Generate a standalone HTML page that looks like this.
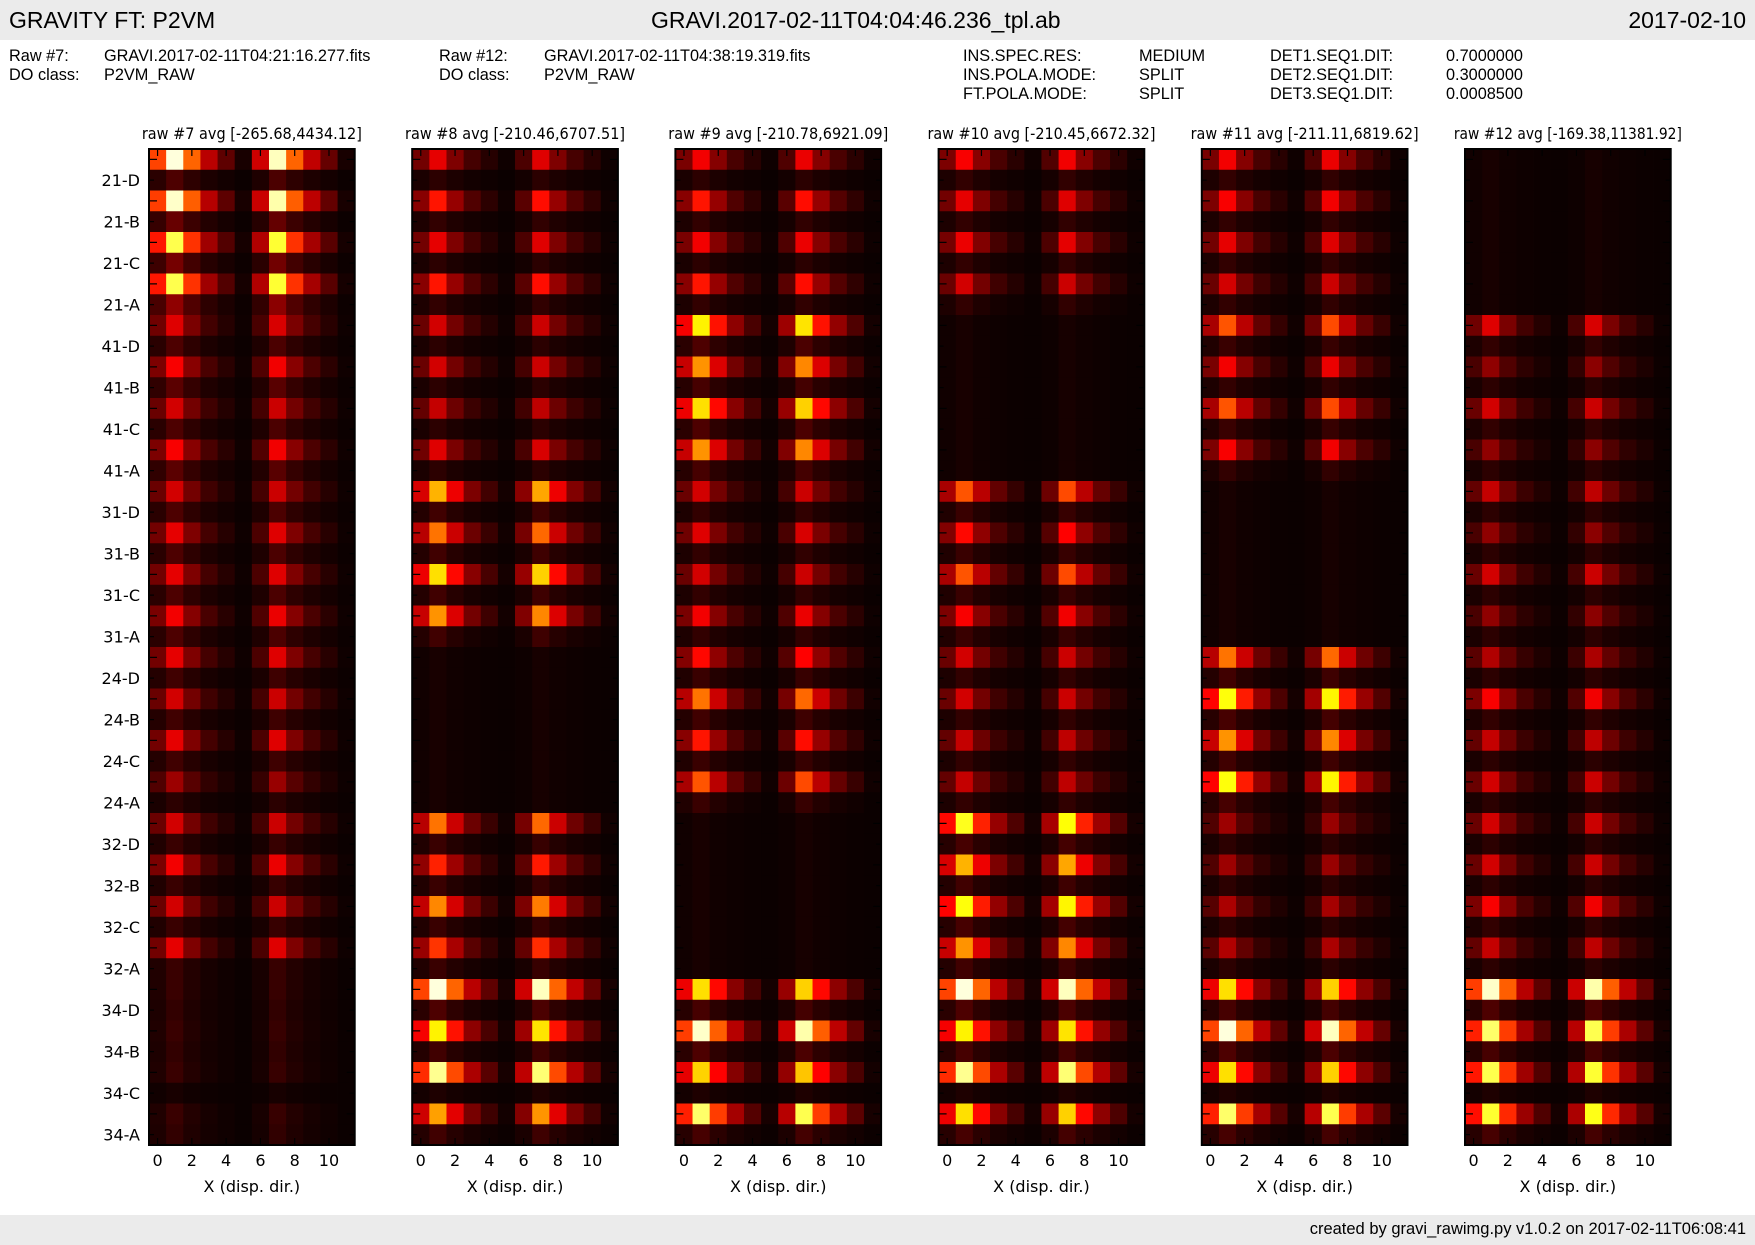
<!DOCTYPE html>
<html><head><meta charset="utf-8"><title>GRAVITY FT: P2VM</title>
<style>
html,body{margin:0;padding:0;background:#fff;}
body{width:1755px;height:1245px;overflow:hidden;position:relative;font-family:"Liberation Sans",sans-serif;}
.hdr{position:absolute;left:0;top:0;width:1755px;height:40px;background:#ebebeb;}
.ftr{position:absolute;left:0;top:1215px;width:1755px;height:30px;background:#ebebeb;}
.t{position:absolute;white-space:nowrap;color:#000;}
.big{font-size:23px;top:7px;}
.info{font-size:16.3px;}
</style></head>
<body>
<div class="hdr"></div>
<div class="t big" style="left:9px">GRAVITY FT: P2VM</div>
<div class="t big" style="left:651px">GRAVI.2017-02-11T04:04:46.236_tpl.ab</div>
<div class="t big" style="right:9px">2017-02-10</div>

<div class="t info" style="left:9px;top:47px">Raw #7:</div>
<div class="t info" style="left:104px;top:47px">GRAVI.2017-02-11T04:21:16.277.fits</div>
<div class="t info" style="left:9px;top:66px">DO class:</div>
<div class="t info" style="left:104px;top:66px">P2VM_RAW</div>
<div class="t info" style="left:439px;top:47px">Raw #12:</div>
<div class="t info" style="left:544px;top:47px">GRAVI.2017-02-11T04:38:19.319.fits</div>
<div class="t info" style="left:439px;top:66px">DO class:</div>
<div class="t info" style="left:544px;top:66px">P2VM_RAW</div>
<div class="t info" style="left:963px;top:47px">INS.SPEC.RES:</div>
<div class="t info" style="left:963px;top:66px">INS.POLA.MODE:</div>
<div class="t info" style="left:963px;top:85px">FT.POLA.MODE:</div>
<div class="t info" style="left:1139px;top:47px">MEDIUM</div>
<div class="t info" style="left:1139px;top:66px">SPLIT</div>
<div class="t info" style="left:1139px;top:85px">SPLIT</div>
<div class="t info" style="left:1270px;top:47px">DET1.SEQ1.DIT:</div>
<div class="t info" style="left:1270px;top:66px">DET2.SEQ1.DIT:</div>
<div class="t info" style="left:1270px;top:85px">DET3.SEQ1.DIT:</div>
<div class="t info" style="left:1446px;top:47px">0.7000000</div>
<div class="t info" style="left:1446px;top:66px">0.3000000</div>
<div class="t info" style="left:1446px;top:85px">0.0008500</div>

<svg id="chart" width="1755" height="1245" style="position:absolute;left:0;top:0"></svg>

<div class="ftr"></div>
<div class="t" style="right:9px;top:1220px;font-size:16.5px">created by gravi_rawimg.py v1.0.2 on 2017-02-11T06:08:41</div>

<script>
const titles = ["raw #7 avg [-265.68,4434.12]","raw #8 avg [-210.46,6707.51]","raw #9 avg [-210.78,6921.09]","raw #10 avg [-210.45,6672.32]","raw #11 avg [-211.11,6819.62]","raw #12 avg [-169.38,11381.92]"];
const rowLabels = ["21-D","21-B","21-C","21-A","41-D","41-B","41-C","41-A","31-D","31-B","31-C","31-A","24-D","24-B","24-C","24-A","32-D","32-B","32-C","32-A","34-D","34-B","34-C","34-A"];
const xTicks = [0,2,4,6,8,10];
const colProfile = [0.45,0.95,0.5,0.25,0.12,0.02,0.28,0.92,0.5,0.26,0.13,0.02];
const bright7  = [1.0,0.98,0.85,0.85, 0.32,0.36,0.3,0.36, 0.3,0.33,0.33,0.35, 0.33,0.3,0.33,0.22, 0.3,0.35,0.3,0.33, 0.07,0.07,0.07,0.07];
const bright8  = [0.33,0.4,0.33,0.4, 0.3,0.3,0.28,0.32, 0.65,0.55,0.72,0.6, 0.02,0.02,0.02,0.02, 0.55,0.42,0.58,0.45, 1.0,0.75,0.92,0.62];
const bright9  = [0.35,0.4,0.35,0.4, 0.75,0.6,0.72,0.6, 0.3,0.32,0.3,0.35, 0.38,0.55,0.4,0.5, 0.02,0.02,0.02,0.02, 0.72,0.98,0.7,0.88];
const bright10 = [0.36,0.33,0.34,0.3, 0.02,0.02,0.02,0.02, 0.5,0.38,0.5,0.36, 0.3,0.3,0.28,0.28, 0.8,0.65,0.78,0.6, 1.0,0.75,0.92,0.72];
const bright11 = [0.35,0.36,0.33,0.3, 0.5,0.35,0.5,0.36, 0.02,0.02,0.02,0.02, 0.55,0.78,0.6,0.78, 0.22,0.22,0.24,0.25, 0.72,1.0,0.72,0.88];
const bright12 = [0.02,0.02,0.02,0.02, 0.32,0.2,0.3,0.2, 0.28,0.2,0.3,0.2, 0.25,0.36,0.28,0.3, 0.3,0.3,0.36,0.28, 0.98,0.88,0.85,0.82];
const dark7  = [0.1,0.14,0.16,0.2, 0.1,0.12,0.1,0.12, 0.1,0.1,0.1,0.1, 0.08,0.08,0.08,0.05, 0.07,0.07,0.07,0.07, 0.06,0.06,0.02,0.06];
const dark8  = [0.05,0.06,0.05,0.06, 0.05,0.05,0.05,0.05, 0.08,0.08,0.08,0.08, 0.02,0.02,0.02,0.02, 0.07,0.07,0.07,0.07, 0.1,0.08,0.03,0.08];
const dark9  = [0.05,0.06,0.05,0.06, 0.1,0.09,0.1,0.09, 0.06,0.06,0.06,0.06, 0.07,0.08,0.07,0.07, 0.02,0.02,0.02,0.02, 0.09,0.1,0.03,0.09];
const dark10 = [0.06,0.06,0.06,0.06, 0.02,0.02,0.02,0.02, 0.07,0.07,0.07,0.07, 0.06,0.06,0.06,0.06, 0.09,0.08,0.09,0.08, 0.1,0.09,0.03,0.09];
const dark11 = [0.06,0.06,0.06,0.06, 0.07,0.06,0.07,0.06, 0.02,0.02,0.02,0.02, 0.08,0.09,0.08,0.09, 0.05,0.05,0.05,0.05, 0.09,0.1,0.03,0.09];
const dark12 = [0.02,0.02,0.02,0.02, 0.06,0.05,0.06,0.05, 0.05,0.05,0.05,0.05, 0.05,0.06,0.05,0.05, 0.05,0.05,0.06,0.05, 0.1,0.09,0.03,0.09];
const brights = [bright7,bright8,bright9,bright10,bright11,bright12];
const darks = [dark7,dark8,dark9,dark10,dark11,dark12];
const BG = 0.015;

const NS = "http://www.w3.org/2000/svg";
const svg = document.getElementById('chart');
const PX0 = 149, PDX = 263.2, PW = 205.7, PY0 = 149, PH = 996;
const NC = 12, NR = 48;
function xScale(p, c){ return PX0 + p*PDX + (c + 0.5) * PW / NC; }
function yScale(r){ return PY0 + (r + 0.5) * PH / NR; }
function clamp(v){ return Math.max(0, Math.min(1, v)); }
function hot(v){
  const r = clamp(v/0.365), g = clamp((v-0.365)/0.381), b = clamp((v-0.746)/0.254);
  return 'rgb(' + Math.round(r*255) + ',' + Math.round(g*255) + ',' + Math.round(b*255) + ')';
}
function mk(tag, attrs){ const e = document.createElementNS(NS, tag); for (const k in attrs) e.setAttribute(k, attrs[k]); svg.appendChild(e); return e; }

const cw = PW / NC, rh = PH / NR;
for (let p = 0; p < 6; p++) {
  const px = PX0 + p*PDX;
  const g = document.createElementNS(NS, 'g');
  
  
  svg.appendChild(g);
  for (let r = 0; r < NR; r++) {
    const li = Math.floor(r/2);
    const amp = (r % 2 === 0) ? brights[p][li] : darks[p][li];
    for (let c = 0; c < NC; c++) {
      const v = BG + amp * colProfile[c];
      const rect = document.createElementNS(NS, 'rect');
      rect.setAttribute('x', (xScale(p, c) - cw/2).toFixed(2));
      rect.setAttribute('y', (yScale(r) - rh/2).toFixed(2));
      rect.setAttribute('width', (cw + 0.4).toFixed(2));
      rect.setAttribute('height', (rh + 0.4).toFixed(2));
      rect.setAttribute('fill', hot(v));
      
      
      g.appendChild(rect);
    }
  }
  for (let r = 0; r < NR; r++) {
    const y = yScale(r), len = (r % 2 === 0) ? 8 : 5;
    mk('line', {x1: px, x2: px + len, y1: y, y2: y, stroke: '#000', 'stroke-width': 1.2});
    mk('line', {x1: px + PW, x2: px + PW - len, y1: y, y2: y, stroke: '#000', 'stroke-width': 1.2});
  }
  xTicks.forEach(function(t){
    const x = xScale(p, t);
    mk('line', {x1: x, x2: x, y1: PY0, y2: PY0 + 7, stroke: '#000', 'stroke-width': 1.2});
    mk('line', {x1: x, x2: x, y1: PY0 + PH, y2: PY0 + PH - 7, stroke: '#000', 'stroke-width': 1.2});
    const tl = mk('text', {x: x, y: 1166, 'text-anchor': 'middle', 'font-size': 16, 'font-family': 'DejaVu Sans, sans-serif'});
    tl.textContent = t;
    
    
  });
  const fr = mk('rect', {x: px, y: PY0, width: PW, height: PH, fill: 'none', stroke: '#000', 'stroke-width': 2});
  
  
  const tt = mk('text', {x: px + PW/2, y: 139, 'text-anchor': 'middle', 'font-size': 16, 'font-family': 'DejaVu Sans, sans-serif', textLength: 220 + (p>=3?8:0), lengthAdjust: 'spacingAndGlyphs'});
  tt.textContent = titles[p];
  
  
  const xl = mk('text', {x: px + PW/2, y: 1192, 'text-anchor': 'middle', 'font-size': 16, 'font-family': 'DejaVu Sans, sans-serif'});
  xl.textContent = 'X (disp. dir.)';
  
  
}
rowLabels.forEach(function(lab, i){
  const t = mk('text', {x: 140, y: yScale(2*i+1) + 6, 'text-anchor': 'end', 'font-size': 16, 'font-family': 'DejaVu Sans, sans-serif'});
  t.textContent = lab;
  
  
});
</script>
</body></html>
